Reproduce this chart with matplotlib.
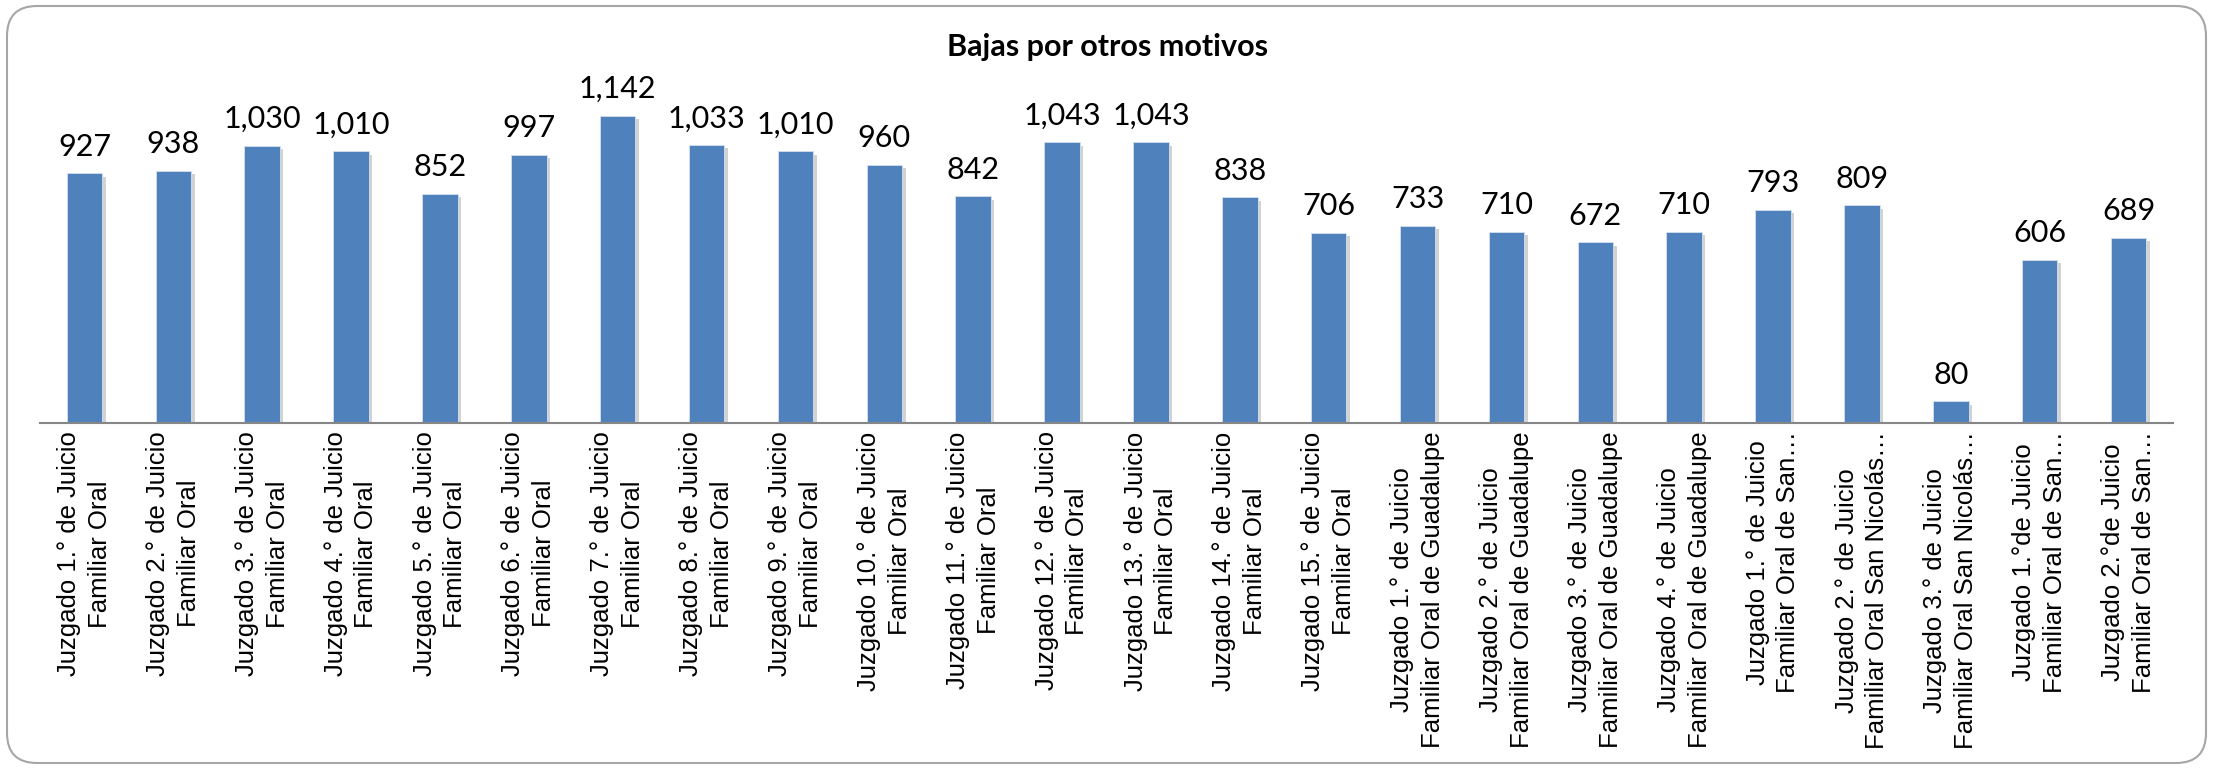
import matplotlib
matplotlib.use("Agg")
import matplotlib.pyplot as plt
import matplotlib.patheffects as pe
from matplotlib.patches import FancyBboxPatch
from matplotlib.transforms import IdentityTransform

title = "Bajas por otros motivos"
categories = [
    "Juzgado 1.° de Juicio\nFamiliar Oral",
    "Juzgado 2.° de Juicio\nFamiliar Oral",
    "Juzgado 3.° de Juicio\nFamiliar Oral",
    "Juzgado 4.° de Juicio\nFamiliar Oral",
    "Juzgado 5.° de Juicio\nFamiliar Oral",
    "Juzgado 6.° de Juicio\nFamiliar Oral",
    "Juzgado 7.° de Juicio\nFamiliar Oral",
    "Juzgado 8.° de Juicio\nFamiliar Oral",
    "Juzgado 9.° de Juicio\nFamiliar Oral",
    "Juzgado 10.° de Juicio\nFamiliar Oral",
    "Juzgado 11.° de Juicio\nFamiliar Oral",
    "Juzgado 12.° de Juicio\nFamiliar Oral",
    "Juzgado 13.° de Juicio\nFamiliar Oral",
    "Juzgado 14.° de Juicio\nFamiliar Oral",
    "Juzgado 15.° de Juicio\nFamiliar Oral",
    "Juzgado 1.° de Juicio\nFamiliar Oral de Guadalupe",
    "Juzgado 2.° de Juicio\nFamiliar Oral de Guadalupe",
    "Juzgado 3.° de Juicio\nFamiliar Oral de Guadalupe",
    "Juzgado 4.° de Juicio\nFamiliar Oral de Guadalupe",
    "Juzgado 1.° de Juicio\nFamiliar Oral de San…",
    "Juzgado 2.° de Juicio\nFamiliar Oral San Nicolás…",
    "Juzgado 3.° de Juicio\nFamiliar Oral San Nicolás…",
    "Juzgado 1.°de Juicio\nFamiliar Oral de San…",
    "Juzgado 2.°de Juicio\nFamiliar Oral de San…",
]
values = [927, 938, 1030, 1010, 852, 997, 1142, 1033, 1010, 960, 842, 1043,
          1043, 838, 706, 733, 710, 672, 710, 793, 809, 80, 606, 689]

W, H, DPI = 2213, 768, 100
fig = plt.figure(figsize=(W / DPI, H / DPI), dpi=DPI)
fig.patch.set_facecolor("white")

# rounded chart border (pixel coordinates)
border = FancyBboxPatch((7, 5), W - 14, H - 11,
                        boxstyle="round,pad=0,rounding_size=30",
                        transform=IdentityTransform(), facecolor="none",
                        edgecolor="#a6a6a6", linewidth=1.5, zorder=-1)
fig.patches.append(border)

ax = fig.add_axes([40 / W, 1 - 423 / H, (2173 - 40) / W, (423 - 100) / H])
ax.set_facecolor("none")
x = list(range(len(values)))
bars = ax.bar(x, values, width=0.4, color="#4F81BD", edgecolor="#d5e0ee",
              linewidth=0.6, zorder=3)
for b in bars:
    b.set_path_effects([pe.SimplePatchShadow(offset=(2.5, -2.5), shadow_rgbFace="#7f7f7f", alpha=0.35),
                        pe.Normal()])

ax.set_xlim(-0.5, len(values) - 0.5)
ax.set_ylim(0, 1200)
ax.set_yticks([])
for s in ["top", "right", "left"]:
    ax.spines[s].set_visible(False)
ax.spines["bottom"].set_color("#868686")
ax.spines["bottom"].set_linewidth(1.5)
ax.spines["bottom"].set_zorder(4)

ax.set_xticks(x)
ax.set_xticklabels(categories, rotation=90, fontsize=18.5, family="Liberation Sans",
                   ha="center", va="top", multialignment="center",
                   linespacing=1.35)
ax.tick_params(axis="x", length=0, pad=6)

for xi, v in zip(x, values):
    ax.annotate(f"{v:,}", (xi, v), xytext=(0, 9), textcoords="offset points",
                ha="center", va="bottom", fontsize=22, family="Lato")

fig.text(1108 / W, 1 - 47 / H, title, ha="center", va="center",
         fontsize=22, fontweight="bold", family="Lato")

fig.savefig("out.png", dpi=DPI)
